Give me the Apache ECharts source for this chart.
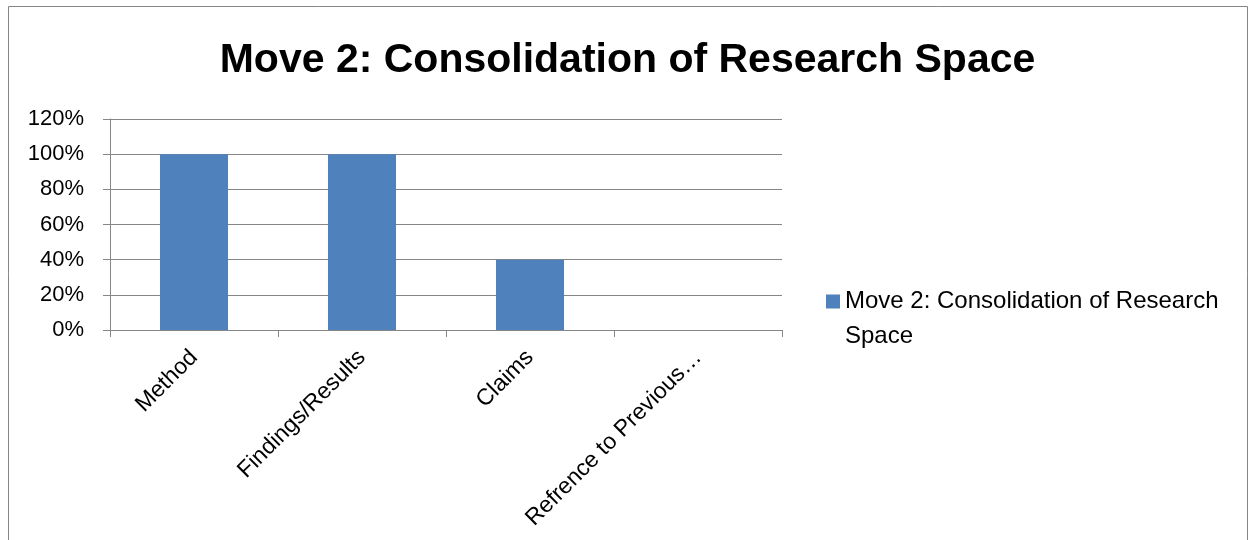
<!DOCTYPE html>
<html>
<head>
<meta charset="utf-8">
<script src="https://cdn.jsdelivr.net/npm/echarts@6/dist/echarts.min.js"></script>
<style>
html,body{margin:0;padding:0;background:#fff;}
#chart{width:1255px;height:540px;}
</style>
</head>
<body>
<div id="chart"></div>
<script>
const titleText = "Move 2: Consolidation of Research Space";
const categories = ["Method", "Findings/Results", "Claims", "Refrence to Previous…"];
const seriesName = "Move 2: Consolidation of Research Space";
const values = [1.0, 1.0, 0.4, 0];
const yMin = 0, yMax = 1.2, yInterval = 0.2;

const FONT = "'Liberation Sans', Arial, sans-serif";
const chart = echarts.init(document.getElementById('chart'), null, {renderer: 'canvas'});
chart.setOption({
  animation: false,
  backgroundColor: '#ffffff',
  textStyle: {fontFamily: FONT},
  title: {
    text: titleText,
    left: 'center',
    top: 35,
    textStyle: {fontFamily: FONT, fontSize: 41, fontWeight: 'bold', color: '#000'}
  },
  grid: {left: 110, right: 473, top: 119, bottom: 210, containLabel: false},
  legend: {
    left: 826,
    top: 249,
    padding: 0,
    itemWidth: 14,
    itemHeight: 14,
    icon: 'rect',
    formatter: function(){ return "\nMove 2: Consolidation of Research\nSpace"; },
    textStyle: {fontFamily: FONT, fontSize: 24, color: '#000', lineHeight: 35}
  },
  xAxis: {
    type: 'category',
    data: categories,
    axisLine: {lineStyle: {color: '#868686', width: 1}},
    axisTick: {show: true, length: 7, lineStyle: {color: '#868686'}},
    axisLabel: {rotate: 45, fontSize: 23, color: '#000', margin: 24, interval: 0, fontFamily: FONT}
  },
  yAxis: {
    type: 'value',
    min: yMin, max: yMax, interval: yInterval,
    axisLine: {show: true, lineStyle: {color: '#868686', width: 1}},
    axisTick: {show: true, length: 7, inside: false, lineStyle: {color: '#868686'}},
    splitLine: {show: true, lineStyle: {color: '#868686', width: 1}},
    axisLabel: {
      fontSize: 22, color: '#000', margin: 26, fontFamily: FONT,
      formatter: function(v){ return Math.round(v*100) + '%'; }
    }
  },
  series: [{
    name: seriesName,
    type: 'bar',
    data: values,
    barWidth: '40.5%',
    itemStyle: {color: '#4F81BD'}
  }],
  graphic: [{
    type: 'rect',
    shape: {x: 8.5, y: 6.5, width: 1239, height: 560},
    style: {fill: 'none', stroke: '#868686', lineWidth: 1},
    silent: true
  }]
});
</script>
</body>
</html>
